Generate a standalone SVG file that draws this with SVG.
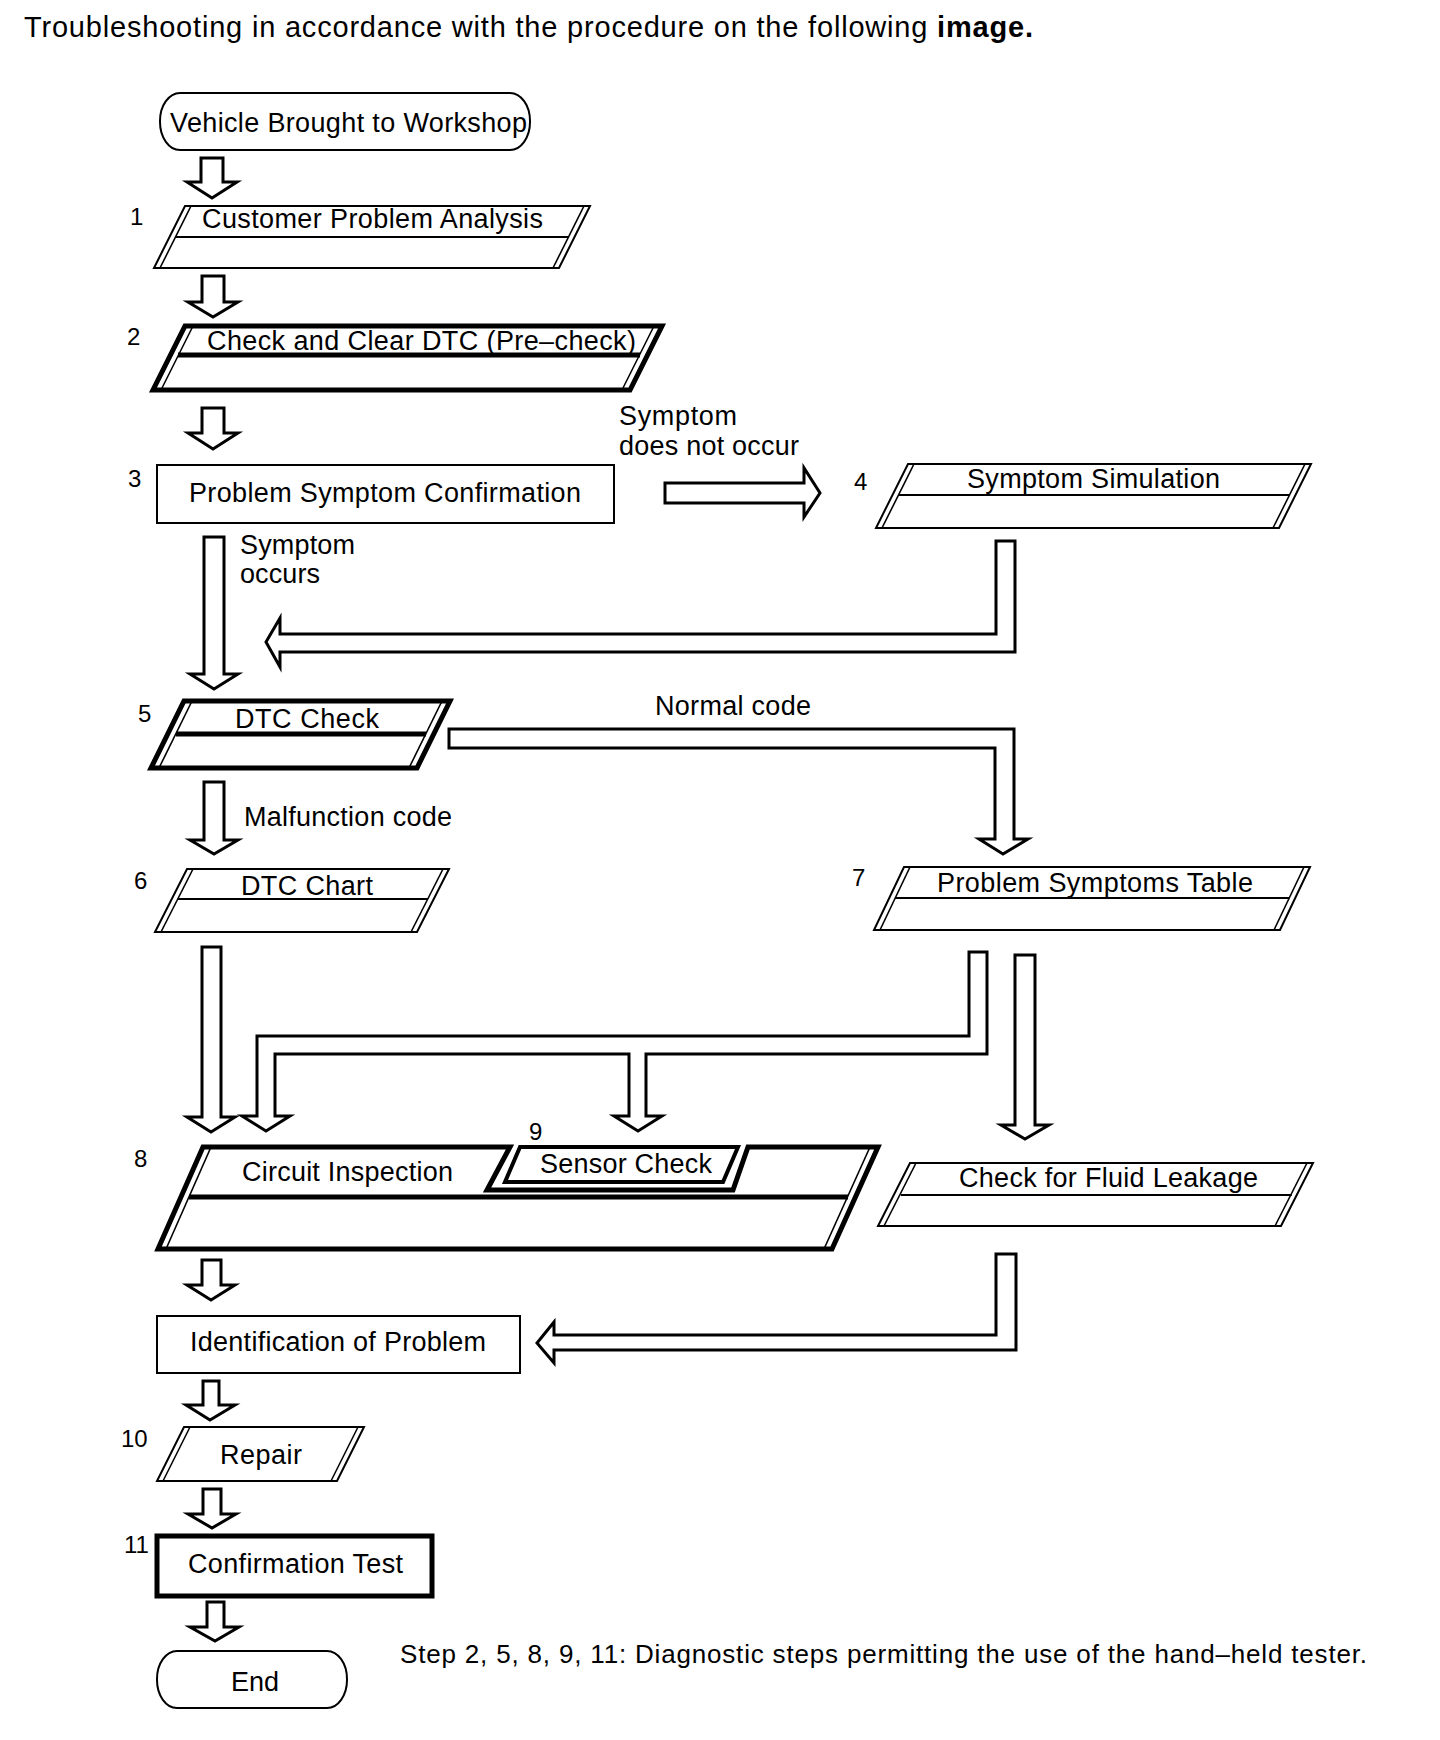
<svg xmlns="http://www.w3.org/2000/svg" width="1440" height="1740" viewBox="0 0 1440 1740">
<style>
text{font-family:"Liberation Sans",Arial,sans-serif;fill:#000}
.t{font-size:27px}
.n{font-size:24px}
.thin{fill:#fff;stroke:#000;stroke-width:2;stroke-linejoin:miter}
.thinl{fill:none;stroke:#000;stroke-width:2}
.thick{fill:#fff;stroke:#000;stroke-width:5;stroke-linejoin:miter}
.thickl{fill:none;stroke:#000;stroke-width:5}
.inl{fill:none;stroke:#000;stroke-width:1.6}
.ar{fill:#fff;stroke:#000;stroke-width:3;stroke-linejoin:miter}
</style>
<rect width="1440" height="1740" fill="#fff"/>
<text x="24" y="37" font-size="29" textLength="1009">Troubleshooting in accordance with the procedure on the following <tspan font-weight="bold">image.</tspan></text>

<g id="connectors">
<polygon class="ar" points="201,158 223,158 223,182 237,182 212,198 187,182 201,182"/>
<polygon class="ar" points="202,276 224,276 224,302 238,302 213,317 188,302 202,302"/>
<polygon class="ar" points="202,408 224,408 224,433 238,433 213,449 188,433 202,433"/>
<polygon class="ar" points="665,483 804,483 804,468 820,493 804,517 804,503 665,503"/>
<polygon class="ar" points="204,537 224,537 224,674 238,674 214,689 190,674 204,674"/>
<polygon class="ar" points="996,541 1015,541 1015,652 280,652 280,667 266,642 280,618 280,634 996,634"/>
<polygon class="ar" points="449,729 1014,729 1014,839 1028,839 1003,854 979,839 995,839 995,748 449,748"/>
<polygon class="ar" points="204,782 224,782 224,840 238,840 214,854 190,840 204,840"/>
<polygon class="ar" points="202,947 221,947 221,1117 235,1117 211,1132 187,1117 202,1117"/>
<polygon class="ar" points="969,952 987,952 987,1054 646,1054 646,1116 662,1116 638,1131 614,1116 629,1116 629,1054 275,1054 275,1116 290,1116 266,1131 242,1116 257,1116 257,1036 969,1036"/>
<polygon class="ar" points="1015,955 1035,955 1035,1125 1049,1125 1025,1139 1001,1125 1015,1125"/>
<polygon class="ar" points="202,1260 221,1260 221,1285 235,1285 211,1300 187,1285 202,1285"/>
<polygon class="ar" points="996,1254 1016,1254 1016,1350 554,1350 554,1363 537,1343 554,1322 554,1335 996,1335"/>
<polygon class="ar" points="203,1381 219,1381 219,1405 235,1405 210,1420 186,1405 203,1405"/>
<polygon class="ar" points="203,1489 221,1489 221,1514 236,1514 212,1528 188,1514 203,1514"/>
<polygon class="ar" points="207,1602 224,1602 224,1627 239,1627 215,1641 190,1627 207,1627"/>
</g>

<g id="n0">
<rect x="160" y="93" width="370" height="57" rx="20" ry="28" class="thin"/>
<text class="t" x="170" y="132" textLength="357">Vehicle Brought to Workshop</text>
</g>

<g id="n1">
<text class="n" x="130" y="225">1</text>
<polygon class="thin" points="185,206 590,206 559,268 154,268"/>
<line class="inl" x1="191" y1="206" x2="160" y2="268"/>
<line class="inl" x1="584" y1="206" x2="553" y2="268"/>
<line class="thinl" x1="175.5" y1="237" x2="568.5" y2="237"/>
<text class="t" x="202" y="228" textLength="341">Customer Problem Analysis</text>
</g>

<g id="n2">
<text class="n" x="127" y="345">2</text>
<polygon class="thick" points="185,326 662,326 630,390 153,390"/>
<line class="inl" x1="193" y1="326" x2="161" y2="390"/>
<line class="inl" x1="654" y1="326" x2="622" y2="390"/>
<line class="thickl" x1="178" y1="355" x2="640" y2="355"/>
<text class="t" x="207" y="350" textLength="429">Check and Clear DTC (Pre–check)</text>
</g>

<g id="n3">
<text class="n" x="128" y="487">3</text>
<rect class="thin" x="157" y="465" width="457" height="58"/>
<text class="t" x="189" y="502" textLength="392">Problem Symptom Confirmation</text>
</g>

<g id="lbl-notoccur">
<text class="t" x="619" y="425" textLength="118">Symptom</text>
<text class="t" x="619" y="455" textLength="180">does not occur</text>
</g>

<g id="n4">
<text class="n" x="854" y="490">4</text>
<polygon class="thin" points="908,464 1311,464 1279,528 876,528"/>
<line class="inl" x1="914" y1="464" x2="882" y2="528"/>
<line class="inl" x1="1305" y1="464" x2="1273" y2="528"/>
<line class="thinl" x1="898.5" y1="495" x2="1289.5" y2="495"/>
<text class="t" x="967" y="488" textLength="253">Symptom Simulation</text>
</g>

<g id="lbl-occurs">
<text class="t" x="240" y="554" textLength="115">Symptom</text>
<text class="t" x="240" y="583" textLength="80">occurs</text>
</g>

<g id="n5">
<text class="n" x="138" y="722">5</text>
<polygon class="thick" points="184,701 450,701 417,768 151,768"/>
<line class="inl" x1="192" y1="701" x2="159" y2="768"/>
<line class="inl" x1="442" y1="701" x2="409" y2="768"/>
<line class="thickl" x1="176" y1="734" x2="426" y2="734"/>
<text class="t" x="235" y="728" textLength="144">DTC Check</text>
</g>

<g id="lbl-normal"><text class="t" x="655" y="715" textLength="156">Normal code</text></g>
<g id="lbl-malf"><text class="t" x="244" y="826" textLength="208">Malfunction code</text></g>

<g id="n6">
<text class="n" x="134" y="889">6</text>
<polygon class="thin" points="187,869 449,869 417,932 155,932"/>
<line class="inl" x1="193" y1="869" x2="161" y2="932"/>
<line class="inl" x1="443" y1="869" x2="411" y2="932"/>
<line class="thinl" x1="177.8" y1="899" x2="427.8" y2="899"/>
<text class="t" x="241" y="895" textLength="132">DTC Chart</text>
</g>

<g id="n7">
<text class="n" x="852" y="886">7</text>
<polygon class="thin" points="904,867 1310,867 1280,930 874,930"/>
<line class="inl" x1="910" y1="867" x2="880" y2="930"/>
<line class="inl" x1="1304" y1="867" x2="1274" y2="930"/>
<line class="thinl" x1="895.2" y1="898" x2="1289.2" y2="898"/>
<text class="t" x="937" y="892" textLength="316">Problem Symptoms Table</text>
</g>

<g id="n8">
<text class="n" x="134" y="1167">8</text>
<polygon class="thick" points="203,1147 510,1147 487,1190 733,1190 748,1147 878,1147 832,1249 158,1249"/>
<line class="inl" x1="211" y1="1147" x2="166" y2="1249"/>
<line class="inl" x1="870" y1="1147" x2="824" y2="1249"/>
<line class="thickl" x1="189" y1="1197" x2="848" y2="1197"/>
<text class="t" x="242" y="1181" textLength="211">Circuit Inspection</text>
</g>

<g id="n9">
<text class="n" x="529" y="1140">9</text>
<polygon fill="#fff" stroke="#000" stroke-width="4" points="520,1147 738,1147 723,1182 505,1182"/>
<text class="t" x="540" y="1173" textLength="172">Sensor Check</text>
</g>

<g id="n-fluid">
<polygon class="thin" points="910,1163 1313,1163 1281,1226 878,1226"/>
<line class="inl" x1="916" y1="1163" x2="884" y2="1226"/>
<line class="inl" x1="1307" y1="1163" x2="1275" y2="1226"/>
<line class="thinl" x1="900.8" y1="1195" x2="1291.8" y2="1195"/>
<text class="t" x="959" y="1187" textLength="299">Check for Fluid Leakage</text>
</g>

<g id="n-ident">
<rect class="thin" x="157" y="1316" width="363" height="57"/>
<text class="t" x="190" y="1351" textLength="296">Identification of Problem</text>
</g>

<g id="n10">
<text class="n" x="121" y="1447">10</text>
<polygon class="thin" points="184,1427 364,1427 337,1481 157,1481"/>
<line class="inl" x1="190" y1="1427" x2="163" y2="1481"/>
<line class="inl" x1="358" y1="1427" x2="331" y2="1481"/>
<text class="t" x="220" y="1464" textLength="82">Repair</text>
</g>

<g id="n11">
<text class="n" x="124" y="1553">11</text>
<rect class="thick" x="157" y="1536" width="275" height="60"/>
<text class="t" x="188" y="1573" textLength="215">Confirmation Test</text>
</g>

<g id="n-end">
<rect x="157" y="1651" width="190" height="57" rx="20" ry="28" class="thin"/>
<text class="t" x="231" y="1691" textLength="48">End</text>
</g>

<text x="400" y="1663" font-size="26" textLength="967">Step 2, 5, 8, 9, 11: Diagnostic steps permitting the use of the hand–held tester.</text>
</svg>
